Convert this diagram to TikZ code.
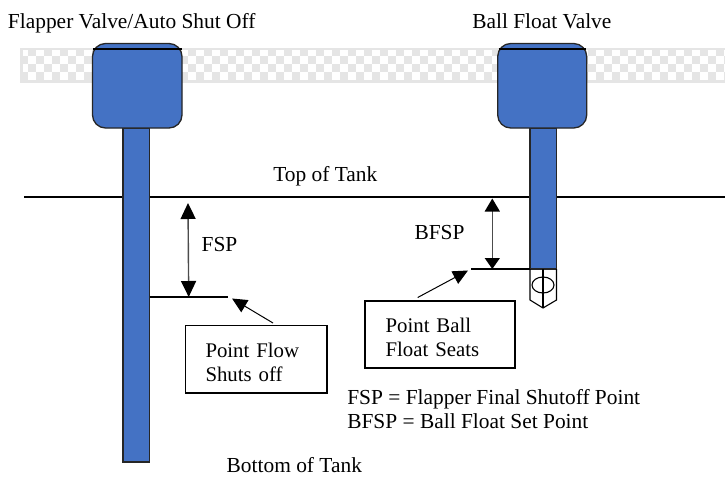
\documentclass[tikz,border=0pt]{standalone}
\usepackage{fontspec}
\setmainfont{Liberation Serif}
\usetikzlibrary{arrows.meta}
\definecolor{valve}{HTML}{4472C4}
\definecolor{band}{HTML}{E5E5E5}
\tikzset{
  x=1pt,y=-1pt,
  txt/.style={anchor=base west,inner sep=0,outer sep=0,font=\fontsize{21.4}{24}\selectfont},
  valvebox/.style={draw=black!85,fill=valve,line width=1.3pt,rounded corners=13pt},
  stem/.style={draw=black!85,fill=valve,line width=1.3pt},
  rule line/.style={black,line width=1.9pt},
  dim/.style={{Triangle[length=16pt,width=15pt,color=black]}-{Triangle[length=16pt,width=15pt,color=black]},black!70,line width=1.4pt},
  dimb/.style={{Triangle[length=13pt,width=15pt,color=black]}-{Triangle[length=11pt,width=15pt,color=black]},black!70,line width=1.4pt},
  lead/.style={-{Triangle[length=15pt,width=14pt]},black,line width=1pt},
  notebox/.style={draw=black,line width=1.6pt,anchor=north west,inner sep=0,outer sep=0,align=left,font=\fontsize{20.8}{24}\selectfont}
}
\begin{document}
\begin{tikzpicture}
\useasboundingbox (0,0) rectangle (725,477);
% checker band
\fill[band] (20,48) rectangle (725,83);
\foreach \r in {0,1,2,3}{
  \foreach \c in {0,...,88}{
    \pgfmathtruncatemacro{\parity}{mod(\r+\c,2)}
    \ifnum\parity=0
      \pgfmathsetmacro{\xa}{max(23,20+\c*8)}
      \pgfmathsetmacro{\xb}{min(725,28+\c*8)}
      \pgfmathsetmacro{\ya}{\r==0 ? 50 : 48+\r*8}
      \pgfmathsetmacro{\yb}{56+\r*8}
      \fill[white] (\xa,\ya) rectangle (\xb,\yb);
    \fi
  }
}
% tank line
\coordinate (tankL) at (24,197);
\coordinate (tankR) at (725,197);
\draw[rule line] (tankL) -- (tankR);
% left valve
\draw[stem] (123,128) rectangle (149.5,462);
\draw[valvebox] (92.5,43.5) rectangle (182,128);
\draw[black,line width=1.2pt] (93,49) -- (181.5,49);
% right valve
\draw[stem] (530,128) rectangle (556.5,269);
\draw[valvebox] (497.7,43.5) rectangle (586.7,128);
\draw[black,line width=1.2pt] (498.5,49) -- (586,49);
% ball float
\draw[black,line width=1.1pt] (530,269) -- (530,300) -- (543,308) -- (556.5,300) -- (556.5,269);
\draw[black,line width=1.1pt] (543,269) -- (543,308);
\draw[black,line width=1.1pt] (543,285) ellipse [x radius=11,y radius=8];
% set point lines
\coordinate (flowA) at (149.5,297);
\coordinate (flowB) at (228,297);
\draw[rule line] (flowA) -- (flowB);
\coordinate (ballA) at (471,269);
\coordinate (ballB) at (530,269);
\draw[rule line] (ballA) -- (ballB);
% dimension arrows
\coordinate (fspT) at (188,203);
\coordinate (fspB) at (188.7,297);
\draw[dim] (fspT) -- (fspB);
\coordinate (bfspT) at (492.3,198.5);
\coordinate (bfspB) at (492.3,269);
\draw[dimb] (bfspT) -- (bfspB);
% note boxes
\node[notebox,text width=141.5pt] (flowbox) at (185.5,325.5)
  {\rule{0pt}{32pt}\hspace*{20pt}Point Flow\\\hspace*{20pt}Shuts off\rule[-11.5pt]{0pt}{11.5pt}};
\node[notebox,text width=150pt] (ballbox) at (365,300.7)
  {\rule{0pt}{31.8pt}\hspace*{20.6pt}Point Ball\\\hspace*{20.6pt}Float Seats\rule[-11.5pt]{0pt}{11.5pt}};
% leaders
\coordinate (flowtail) at (273,323);
\coordinate (flowtip) at (232,298.5);
\draw[lead] (flowtail) -- (flowtip);
\coordinate (balltail) at (417.7,297.5);
\coordinate (balltip) at (468,270.5);
\draw[lead] (balltail) -- (balltip);
% labels
\node[txt] (t1) at (8,28.5) {Flapper Valve/Auto Shut Off};
\node[txt] (t2) at (472.3,28) {Ball Float Valve};
\node[txt] (t3) at (273.3,181) {Top of Tank};
\node[txt] (t4) at (201.7,251.5) {FSP};
\node[txt] (t5) at (414.5,239.5) {BFSP};
\node[txt] (t6) at (347.3,404.5) {FSP = Flapper Final Shutoff Point};
\node[txt] (t7) at (347.3,428.5) {BFSP = Ball Float Set Point};
\node[txt] (t8) at (226.7,472) {Bottom of Tank};
\end{tikzpicture}
\end{document}
